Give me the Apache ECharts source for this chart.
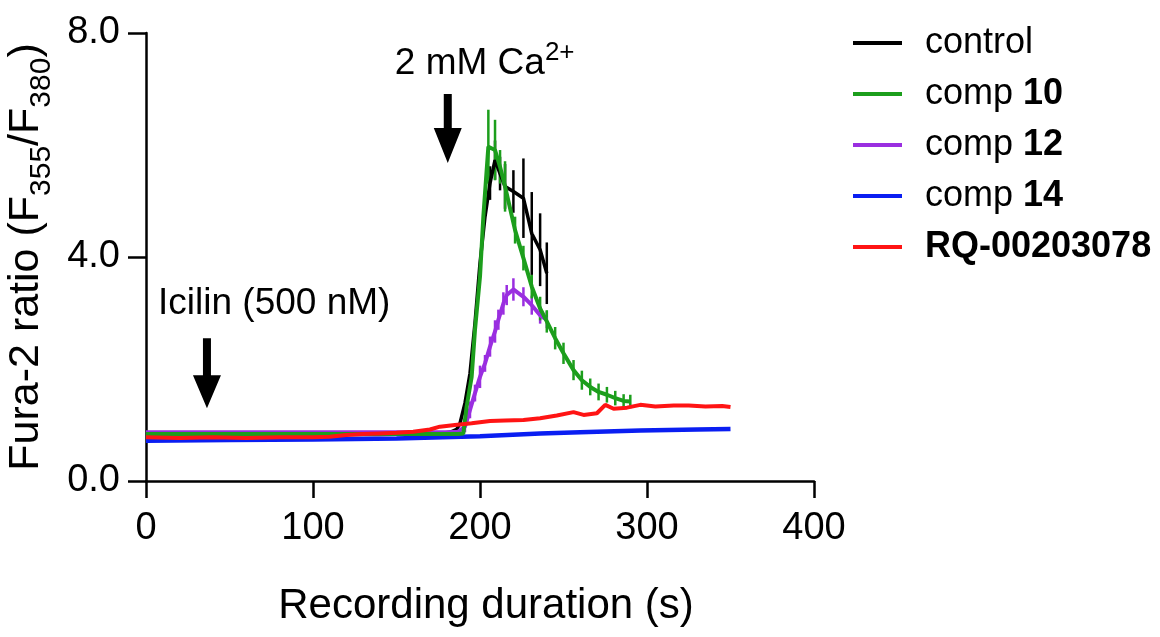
<!DOCTYPE html>
<html>
<head>
<meta charset="utf-8">
<script src="https://cdn.jsdelivr.net/npm/echarts@6/dist/echarts.min.js"></script>
<style>
  html, body { margin: 0; padding: 0; background: #fff; }
  #chart { width: 1160px; height: 637px; }
</style>
</head>
<body>
<div id="chart"></div>
<script>
// values: time (s), mean ratio, error
const ctrlT   = [0, 20, 40, 60, 80, 100, 120, 140, 160, 175, 182, 186, 188, 191, 194, 197, 200, 203, 206, 209, 212, 215, 220, 226, 231, 236, 240]
const ctrlV   = [0.83, 0.83, 0.83, 0.82, 0.83, 0.83, 0.83, 0.83, 0.84, 0.85, 0.87, 0.92, 1.03, 1.39, 1.92, 2.82, 3.89, 4.72, 5.32, 5.73, 5.49, 5.26, 5.17, 5.05, 4.42, 4.13, 3.71]
const ctrlErr = [0, 0, 0, 0, 0, 0, 0, 0, 0, 0, 0, 0, 0, 0, 0, 0, 0, 0, 0.3, 0.35, 0.3, 0.4, 0.38, 0.71, 0.74, 0.65, 0.55]

const c10T   = [0, 20, 40, 60, 80, 100, 120, 140, 160, 180, 187, 190, 192, 195, 197, 200, 202, 205, 209, 212, 215, 221, 226, 231, 236, 240, 245, 250, 256, 261, 266, 271, 276, 281, 286, 290]
const c10V   = [0.84, 0.84, 0.84, 0.84, 0.84, 0.84, 0.84, 0.84, 0.84, 0.84, 0.84, 0.85, 1.33, 1.86, 2.70, 3.65, 4.72, 5.97, 5.91, 5.61, 5.26, 4.48, 3.98, 3.47, 3.08, 2.85, 2.55, 2.28, 1.98, 1.80, 1.68, 1.59, 1.54, 1.48, 1.43, 1.42]
const c10Err = [0, 0, 0, 0, 0, 0, 0, 0, 0, 0, 0, 0, 0, 0, 0, 0, 0, 0.66, 0.54, 0.3, 0.45, 0.24, 0.22, 0.21, 0.21, 0.2, 0.2, 0.19, 0.18, 0.17, 0.15, 0.15, 0.14, 0.13, 0.12, 0.12]

const c12T   = [0, 20, 40, 60, 80, 100, 120, 140, 160, 180, 187, 191, 194, 197, 200, 203, 206, 209, 211, 214, 216, 220, 226, 231, 236, 240]
const c12V   = [0.87, 0.87, 0.87, 0.87, 0.87, 0.87, 0.87, 0.87, 0.87, 0.87, 0.88, 0.97, 1.27, 1.57, 1.86, 2.10, 2.40, 2.67, 2.88, 3.17, 3.32, 3.42, 3.29, 3.14, 2.96, 2.88]
const c12Err = [0, 0, 0, 0, 0, 0, 0, 0, 0, 0, 0, 0.1, 0.15, 0.15, 0.2, 0.15, 0.18, 0.2, 0.18, 0.2, 0.18, 0.2, 0.17, 0.17, 0.15, 0.15]

const c14T = [0, 50, 100, 150, 200, 236, 260, 296, 330, 350]
const c14V = [0.72, 0.73, 0.74, 0.76, 0.80, 0.85, 0.87, 0.90, 0.92, 0.93]

const rqT = [0, 20, 40, 60, 80, 100, 110, 120, 130, 140, 150, 160, 170, 176, 185, 195, 206, 215, 226, 236, 246, 256, 262, 270, 275, 280, 288, 296, 305, 316, 325, 335, 345, 350]
const rqV = [0.78, 0.77, 0.78, 0.77, 0.78, 0.78, 0.79, 0.82, 0.84, 0.85, 0.86, 0.88, 0.92, 0.97, 1.0, 1.03, 1.07, 1.08, 1.09, 1.12, 1.17, 1.23, 1.18, 1.21, 1.36, 1.29, 1.31, 1.36, 1.33, 1.35, 1.35, 1.33, 1.34, 1.32]

// annotation anchors in data space: [t, v]
const icilinArrow = [[36.5, 2.55], [36.5, 1.30]]
const caArrow = [[180.7, 6.91], [180.7, 5.68]]
const icilinText = [7.2, 3.16]
const caText = [149, 7.39]

const chart = echarts.init(document.getElementById('chart'))
const FONT = 'Liberation Sans, Arial, sans-serif'

function zip(t, v) {
    return t.map((x, i) => [x, v[i]])
}

function lineSeries(name, t, v, color, width) {
    return {
        name: name,
        type: 'line',
        data: zip(t, v),
        showSymbol: false,
        animation: false,
        lineStyle: { color: color, width: width },
        itemStyle: { color: color }
    }
}

function errSeries(name, t, v, e, color) {
    const pts = []
    t.forEach((x, i) => { if (e[i] > 0) pts.push([x, v[i], e[i]]) })
    return {
        name: name + '-err',
        type: 'custom',
        animation: false,
        silent: true,
        data: pts,
        renderItem: function (params, api) {
            const x = api.value(0), m = api.value(1), d = api.value(2)
            const a = api.coord([x, m - d])
            const b = api.coord([x, m + d])
            return {
                type: 'line',
                shape: { x1: a[0], y1: a[1], x2: b[0], y2: b[1] },
                style: { stroke: color, lineWidth: 2.5 }
            }
        }
    }
}

const COLORS = {
    control: '#000000',
    c10: '#1c9e1c',
    c12: '#9a2ee0',
    c14: '#0a1ef2',
    rq: '#ff1414'
}

chart.setOption({
    backgroundColor: '#fff',
    animation: false,
    grid: { left: 146, right: 346, top: 33, bottom: 156, containLabel: false, outerBoundsMode: 'none' },
    legend: {
        orient: 'vertical',
        left: 848,
        top: 20,
        itemWidth: 49,
        itemHeight: 4,
        itemGap: 15,
        icon: 'rect',
        data: ['control', 'comp 10', 'comp 12', 'comp 14', 'RQ-00203078'],
        formatter: function (name) {
            if (name.indexOf('comp ') === 0) return '{n|comp }{b|' + name.slice(5) + '}'
            if (name === 'RQ-00203078') return '{b|' + name + '}'
            return '{n|' + name + '}'
        },
        textStyle: {
            padding: [0, 0, 0, 18],
            rich: {
                n: { fontFamily: FONT, fontSize: 36, color: '#000', lineHeight: 36 },
                b: { fontFamily: FONT, fontSize: 36, color: '#000', fontWeight: 'bold', lineHeight: 36 }
            }
        }
    },
    xAxis: {
        type: 'value',
        min: 0,
        max: 400,
        interval: 100,
        name: 'Recording duration (s)',
        nameLocation: 'middle',
        nameGap: 104,
        nameTextStyle: { fontFamily: FONT, fontSize: 42, color: '#000', padding: [0, 0, 0, 12] },
        axisLine: { lineStyle: { color: '#000', width: 2.5 } },
        axisTick: { length: 17, lineStyle: { color: '#000', width: 2.5 } },
        axisLabel: { fontFamily: FONT, fontSize: 38, color: '#000', margin: 29 },
        splitLine: { show: false }
    },
    yAxis: {
        type: 'value',
        min: 0,
        max: 8,
        interval: 4,
        name: '{n|Fura-2 ratio (F}{s|355}{n|/F}{s|380}{n|)}',
        nameLocation: 'middle',
        nameRotate: 90,
        nameGap: 83,
        nameTextStyle: {
            rich: {
                n: { fontFamily: FONT, fontSize: 43, color: '#000', verticalAlign: 'bottom', padding: [0, 0, 9, 0] },
                s: { fontFamily: FONT, fontSize: 30, color: '#000', verticalAlign: 'bottom' }
            }
        },
        axisLine: { lineStyle: { color: '#000', width: 2.5 } },
        axisTick: { length: 18, lineStyle: { color: '#000', width: 2.5 } },
        axisLabel: {
            fontFamily: FONT, fontSize: 38, color: '#000', margin: 26,
            formatter: v => v.toFixed(1)
        },
        splitLine: { show: false }
    },
    series: [
        lineSeries('control', ctrlT, ctrlV, COLORS.control, 3.5),
        errSeries('control', ctrlT, ctrlV, ctrlErr, COLORS.control),
        lineSeries('comp 14', c14T, c14V, COLORS.c14, 4.5),
        lineSeries('comp 12', c12T, c12V, COLORS.c12, 4),
        errSeries('comp 12', c12T, c12V, c12Err, COLORS.c12),
        lineSeries('comp 10', c10T, c10V, COLORS.c10, 4),
        errSeries('comp 10', c10T, c10V, c10Err, COLORS.c10),
        lineSeries('RQ-00203078', rqT, rqV, COLORS.rq, 4)
    ]
})

function arrowShape(pair, shaftW, headW, headH) {
    const top = chart.convertToPixel({ gridIndex: 0 }, pair[0])
    const tip = chart.convertToPixel({ gridIndex: 0 }, pair[1])
    const x = tip[0]
    const hb = tip[1] - headH
    return [
        [x - shaftW / 2, top[1]], [x + shaftW / 2, top[1]],
        [x + shaftW / 2, hb], [x + headW / 2, hb],
        [x, tip[1]],
        [x - headW / 2, hb], [x - shaftW / 2, hb]
    ]
}

const icP = chart.convertToPixel({ gridIndex: 0 }, icilinText)
const caP = chart.convertToPixel({ gridIndex: 0 }, caText)

chart.setOption({
    graphic: [
        { type: 'polygon', shape: { points: arrowShape(icilinArrow, 8, 28, 33) }, style: { fill: '#000' } },
        { type: 'polygon', shape: { points: arrowShape(caArrow, 8, 28, 35) }, style: { fill: '#000' } },
        {
            type: 'text', x: icP[0], y: icP[1],
            style: { text: 'Icilin (500 nM)', font: '37px ' + FONT, fill: '#000', verticalAlign: 'middle' }
        },
        {
            type: 'text', x: caP[0], y: caP[1] - 6,
            style: {
                text: '{n|2 mM Ca}{p|2+}',
                verticalAlign: 'middle',
                rich: {
                    n: { fontFamily: FONT, fontSize: 37, fill: '#000', verticalAlign: 'bottom' },
                    p: { fontFamily: FONT, fontSize: 26, fill: '#000', verticalAlign: 'bottom', padding: [0, 0, 16, 0] }
                }
            }
        }
    ]
})
</script>
</body>
</html>
